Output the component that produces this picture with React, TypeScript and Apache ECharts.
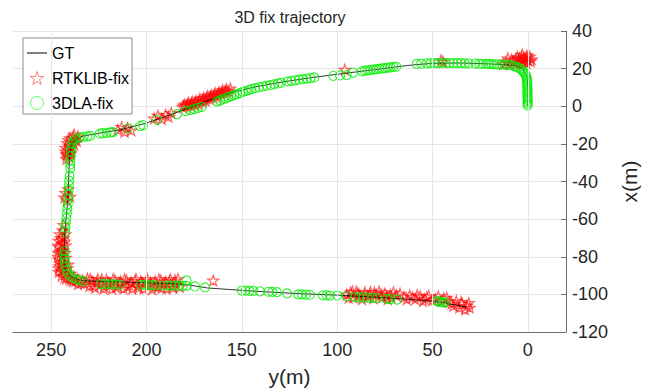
import React, { useEffect, useRef } from "react";
import * as echarts from "echarts";

// y(m) is horizontal (reversed), x(m) vertical
const xTicks = [0, 50, 100, 150, 200, 250];
const gridX = [250, 200, 150, 100, 50, 0];

const gtPath: number[][] = [
  [0, 0], [0, 8], [0.3, 14], [1, 17], [2.5, 19.5], [5, 21.3], [10, 22], [20, 22.5], [35, 23], [50, 22.8],
  [60, 22], [70, 20.8], [80, 19.5], [100, 17], [115, 15], [128, 13], [142, 10.5], [155, 7.4], [165, 4],
  [172, 1.5], [178, -1], [190, -5.5], [202, -9.5], [214, -12.5], [224, -14.2], [233, -15.8], [237, -17.5],
  [239.3, -20], [240, -24], [240.5, -30], [241.2, -50], [242.7, -65], [243.3, -80], [242.5, -87],
  [239.5, -90.5], [235, -92.4], [231, -92.8], [210, -93.5], [186, -94.3], [179, -94.8], [168, -96.6],
  [142, -98.4], [120, -99.6], [98.5, -100.5], [80, -101.5], [63, -102.6], [50, -103.6], [45, -104.3],
  [40, -105.3], [32, -106.8],
];

const rtkFix: number[][] = [
  [-2, 25], [-1, 26.5], [0, 24.5], [0.5, 27], [1, 25.5], [1.5, 23.5], [2, 26], [2.5, 24.8], [3, 27.5],
  [3.5, 25.8], [4, 23], [5, 24.5], [5.5, 26.3], [6.5, 25], [7.5, 23.5], [8.5, 24.8], [9.5, 22.5],
  [10.5, 25.5], [11.5, 23.8], [13, 22.5], [-1.5, 24], [0.8, 23], [2.8, 22.8], [4.5, 25.5], [6, 22.5],
  [44.5, 23.7], [45.5, 24.5], [96, 19.5],
  [181, -0.5], [180, 1], [179, 0], [178, 2], [177, 0.5], [176, 2.5], [175, 1], [174, 3], [173, 1.5],
  [172, 4], [171, 2.5], [170, 4.5], [169, 3], [168, 5.5], [167, 4], [166, 6], [165, 5], [164, 7],
  [163, 5.5], [162, 7.5], [161, 6.5], [160, 8.5], [159, 7.5], [158, 9], [157, 8], [156, 9.5],
  [180.5, 0.3], [178.5, 1], [176.5, 1.5], [174.5, 2], [172.5, 2.8], [170.5, 3.5], [168.5, 4.3],
  [166.5, 5], [164.5, 6], [162.5, 6.5], [160.5, 7.5], [158.5, 8.2],
  [196, -6.5], [194, -5], [192, -6.8], [190, -4.5], [188.5, -5.5], [187, -3.5],
  [215, -12.5], [213, -11], [211.5, -13.5], [210, -11.5], [208, -12.8],
  [236, -16], [237.5, -17.5], [238, -15], [239, -19], [240, -17], [240.5, -21], [241.5, -19.5],
  [241, -23.5], [242, -25.5], [240.5, -27], [239.5, -24.5], [242.5, -22],
  [236.5, -18.5], [238.5, -16.5], [241, -18], [239.5, -22], [241.5, -26], [242.5, -24], [238, -20],
  [240, -25.5], [242, -28],
  [241, -44], [242.5, -46], [240, -48], [241.8, -50], [243, -48.5], [243.5, -63], [244, -66], [242.5, -68],
  [245.5, -68], [243.5, -70], [246, -71.5], [244, -73], [242.5, -74], [245.8, -75], [243.8, -76.5],
  [246.2, -78], [244.2, -79], [242.3, -80.5], [246, -81.5], [244, -82.5], [245.5, -85], [243, -84.5],
  [241.5, -86], [244.5, -87.5], [242.5, -89], [240, -89], [243, -91], [240.5, -91.8], [238, -90.5],
  [238.5, -93], [236, -91.8], [236, -94.5], [233.5, -92.5],
  [245, -70], [243, -72], [246.5, -74], [244.5, -77.5], [242.8, -78], [246.5, -80], [245, -83.5],
  [243.5, -86.5], [246, -88], [241, -84], [242, -91.5], [239.5, -92.5], [237, -92.7], [234.5, -93.8],
  [244.5, -90], [246, -86],
  [231, -91.5], [230, -95.5], [228.5, -93], [227, -96.5], [225.5, -91.8], [224, -94.5], [222.5, -96.8],
  [221, -92.2], [219.5, -95], [218, -97], [216.5, -92.5], [215, -95.5], [213.5, -93], [212, -96.8],
  [210.5, -92.5], [209, -95], [207.5, -97], [206, -92.8], [204.5, -95.5], [203, -93], [201.5, -96.8],
  [200, -92.5], [198.5, -95.2], [197, -97.2], [195.5, -93], [194, -95.8], [192.5, -92.5], [191, -94.5],
  [189.5, -96.8], [188, -93], [186.5, -95.5], [185, -92.5],
  [232.5, -94.2], [229.5, -91.8], [228, -95.2], [226, -93.6], [223.5, -92], [222, -95.6], [220, -93.8],
  [217.5, -91.8], [216, -96.2], [214, -94], [211.5, -92], [210, -95.8], [208, -93.7], [205.5, -91.8],
  [204, -96.5], [202, -94], [199.5, -91.8], [198, -93.8], [196, -95.8], [193.5, -91.9], [192, -96.6],
  [190, -93.3], [187.5, -91.9], [186, -96.5], [184.5, -94.2], [183.5, -91.8], [182.5, -96],
  [165, -92.6],
  [95, -100], [93, -99], [91.5, -101.5], [90, -98.5], [88.5, -100.5], [87, -102.5], [85.5, -99],
  [84, -101], [82.5, -98.7], [81, -102], [79.5, -100], [78, -98.5], [76.5, -101.5], [75, -99.5],
  [73.5, -102.5], [72, -100], [70.5, -98.8],
  [94, -101.8], [92, -98.5], [89, -99.5], [86, -100.8], [83, -100], [80.5, -99], [77, -100.2],
  [74, -101], [71.5, -101.8], [69, -100.5], [67, -99.6],
  [65, -101.5], [62, -100.5], [59, -102.5], [56.5, -101], [54, -102.5], [52, -100.8], [50, -103],
  [63.5, -102.6], [60.5, -101.5], [58, -100.5], [55, -103.5], [53, -101.5], [48.5, -102.5],
  [47, -101], [44, -102], [41, -104], [39, -106], [37.5, -103.5], [36, -107], [34.5, -105], [33, -108],
  [31, -104.5], [30.5, -107], [45.5, -103.5], [42.5, -101.8], [40, -105], [35, -104], [32, -106],
];

const dlaFix: number[][] = [
  [0.1, 0.3], [0.1, 1.3], [0.1, 2.2], [0.1, 3.2], [0.1, 4.1], [0.2, 5], [0.2, 6], [0.2, 7], [0.2, 7.9],
  [0.2, 8.9], [0.2, 9.8], [0.3, 10.8], [0.3, 11.7], [0.3, 12.6], [0.4, 13.6], [0.5, 14.5], [0.7, 15.5],
  [1, 16.4], [1.5, 17.3], [2.1, 18.2], [2.9, 19], [3.8, 19.8], [4.8, 20.4], [5.9, 20.9], [7.2, 21.3],
  [9, 21.8], [10.5, 22], [12, 22.1], [14, 22.1], [16, 22.3], [17.5, 22.3], [19, 22.4], [20.5, 22.5],
  [22, 22.5], [24, 22.6], [25.5, 22.6], [27.5, 22.7],
  [31, 22.8], [33, 22.8], [35, 22.9], [37, 22.9], [39, 22.9], [41, 23], [43, 23], [45, 23], [47, 22.9],
  [49, 22.9], [51, 22.9], [53, 22.8], [56, 22.6], [58.3, 22.5],
  [69, 21], [70.5, 20.9], [72, 20.7], [73.5, 20.5], [75, 20.3], [76.5, 20.1], [78, 19.9], [79.5, 19.7],
  [81, 19.5], [82.5, 19.3], [84, 19.1], [85.5, 18.9], [87, 18.6],
  [91.7, 17.9], [95, 16.6], [98.5, 16.4], [102, 16.2],
  [112, 15.3], [114, 15], [116, 14.7], [118, 14.4], [120, 14.1], [122, 13.8], [124, 13.5], [126, 13.2],
  [129.5, 12.5], [131, 12.1], [133, 11.7], [135, 11.3], [137, 10.9], [139, 10.5], [141, 10.1], [143, 9.6],
  [145, 9.1], [146.5, 8.6], [148, 8.1], [149.5, 7.6], [151, 7], [152.5, 6.4],
  [154, 5.9], [155.5, 5.4], [157, 4.8], [158.5, 4.2], [160, 3.6], [161.5, 3], [163, 2.5],
  [171, -0.3], [173, -0.9], [175, -1.5], [177, -2], [179.5, -2.6],
  [184, -4.2], [194.5, -7.2], [201.8, -10], [203.4, -10.5], [209.7, -11.8], [217.6, -13.7], [219, -13.9],
  [221, -14.1], [223, -14.3], [224.5, -14.6], [229.6, -15.8], [231, -16], [233, -16.3], [235, -16.6],
  [237, -17.2], [238.3, -18.5], [239, -20], [239.5, -22], [239.7, -24], [239.8, -26.5], [239.9, -29],
  [240, -31], [240, -33],
  [240.3, -37], [240.5, -39.5], [240.7, -42], [240.8, -44.5], [241, -47], [241.1, -49.5], [241.3, -52],
  [241.5, -54.5], [241.7, -57], [242, -59.5], [242.3, -62], [242.5, -64.5], [242.7, -67],
  [243, -77], [243.2, -79], [243, -81], [242.8, -83], [242.5, -85], [242, -87], [241.2, -88.8],
  [240, -90.2], [238.5, -91.3], [236.8, -92], [235, -92.5], [233, -93],
  [224, -94.5], [222, -94.6], [220, -94.6], [218, -94.7], [216, -94.7], [214, -94.8],
  [203, -95], [201, -95], [199, -95.1], [197, -95.1], [195, -95.2],
  [191, -95.3], [189, -95.3], [187, -95.3], [185, -95.4], [183, -95.4], [181, -95.5], [179, -95.5],
  [179, -92.6], [174.6, -95.8], [169.3, -96.3],
  [150, -98], [148, -98], [146, -98.1], [144, -98.1], [140.5, -98.4], [136, -98.6], [134, -98.7],
  [131.6, -98.8], [126.3, -99.5], [120.5, -100], [118.5, -100], [116.3, -100.1], [114.3, -100.2],
  [107.5, -100.5], [105.5, -100.5], [103.8, -100.6], [100, -100.7], [95, -101],
  [90.7, -101.5], [88.5, -101.6], [86.3, -101.7], [84, -101.8], [81.5, -101.9], [79, -102],
  [74, -102.4], [72, -102.5], [68.6, -102.8],
  [47.7, -103.6], [46.5, -103.8], [45.5, -104], [44.5, -104.2], [43.5, -104.4],
];

const STAR =
  "path://M50,2 L61,36 L97,36 L68,57 L79,92 L50,71 L21,92 L32,57 L3,36 L39,36 Z";
const LINE_ICON = "path://M0,0 L20,0 L20,1 L0,1 Z";
const FONT = "'Liberation Sans', Arial, sans-serif";
const TXT = "#262626";
const AXIS = "#6e6e6e";
const GRID = "#e6e6e6";

export default function App() {
  const ref = useRef<HTMLDivElement>(null);
  useEffect(() => {
    if (!ref.current) return;
    const chart = echarts.init(ref.current, undefined, { renderer: "svg" });
    chart.setOption({
      animation: false,
      backgroundColor: "#ffffff",
      textStyle: { fontFamily: FONT },
      graphic: [
        {
          type: "text",
          x: 290,
          y: 17,
          style: {
            text: "3D fix trajectory",
            align: "center",
            verticalAlign: "middle",
            font: `16px ${FONT}`,
            fill: TXT,
          },
        },
      ],
      grid: { left: 13, right: 84, top: 31, bottom: 57 },
      legend: {
        left: 23,
        top: 38,
        orient: "vertical",
        padding: [7, 3, 3, 4],
        itemWidth: 20,
        itemHeight: 13,
        itemGap: 9,
        borderColor: "#8c8c8c",
        borderWidth: 1,
        backgroundColor: "#ffffff",
        selectedMode: false,
        textStyle: { fontSize: 16, color: "#000", fontFamily: FONT },
        data: [
          { name: "GT", icon: LINE_ICON, itemStyle: { color: "#000", borderWidth: 0 } },
          {
            name: "RTKLIB-fix",
            icon: STAR,
            itemStyle: { color: "rgba(255,0,0,0)", borderColor: "rgba(255,60,60,0.8)", borderWidth: 1 },
          },
          {
            name: "3DLA-fix",
            icon: "circle",
            itemStyle: { color: "rgba(0,255,0,0)", borderColor: "#33ff33", borderWidth: 1 },
          },
        ],
      },
      xAxis: {
        type: "value",
        inverse: true,
        min: -20,
        max: 270,
        name: "y(m)",
        nameLocation: "middle",
        nameGap: 34,
        nameTextStyle: { fontSize: 21, color: TXT, fontFamily: FONT },
        axisLine: { show: true, onZero: false, lineStyle: { color: AXIS, width: 1 } },
        axisTick: { show: true, inside: true, length: 5, customValues: xTicks, lineStyle: { color: AXIS } },
        axisLabel: { customValues: xTicks, fontSize: 18, color: TXT, margin: 9, fontFamily: FONT },
        splitLine: { show: false },
      },
      yAxis: {
        type: "value",
        position: "right",
        min: -120,
        max: 40,
        interval: 20,
        name: "x(m)",
        nameLocation: "middle",
        nameRotate: 90,
        nameGap: 41,
        nameTextStyle: { fontSize: 21, color: TXT, fontFamily: FONT },
        axisLine: { show: true, onZero: false, lineStyle: { color: AXIS, width: 1 } },
        axisTick: { show: true, inside: true, length: 5, lineStyle: { color: AXIS } },
        axisLabel: { fontSize: 18, color: TXT, margin: 6, fontFamily: FONT },
        splitLine: { show: true, lineStyle: { color: GRID, width: 1 } },
      },
      series: [
        {
          name: "gridlines",
          type: "scatter",
          data: [],
          z: 1,
          silent: true,
          markLine: {
            silent: true,
            symbol: "none",
            label: { show: false },
            lineStyle: { color: GRID, type: "solid", width: 1 },
            data: gridX.map((v) => ({ xAxis: v })),
          },
        },
        {
          name: "GT",
          type: "line",
          data: gtPath,
          symbol: "none",
          showSymbol: false,
          smooth: false,
          z: 3,
          lineStyle: { color: "#000000", width: 0.8 },
          itemStyle: { color: "#000000" },
        },
        {
          name: "RTKLIB-fix",
          type: "scatter",
          data: rtkFix,
          symbol: STAR,
          symbolSize: 11,
          symbolKeepAspect: true,
          z: 2,
          itemStyle: { color: "rgba(255,0,0,0)", borderColor: "rgba(255,0,0,0.75)", borderWidth: 1.2 },
        },
        {
          name: "3DLA-fix",
          type: "scatter",
          data: dlaFix,
          symbol: "circle",
          symbolSize: 9,
          z: 4,
          itemStyle: { color: "rgba(0,255,0,0)", borderColor: "#00ee00", borderWidth: 1.1 },
        },
      ],
    });
    return () => chart.dispose();
  }, []);
  return <div ref={ref} style={{ width: 650, height: 392, position: "absolute", left: 0, top: 0 }} />;
}
